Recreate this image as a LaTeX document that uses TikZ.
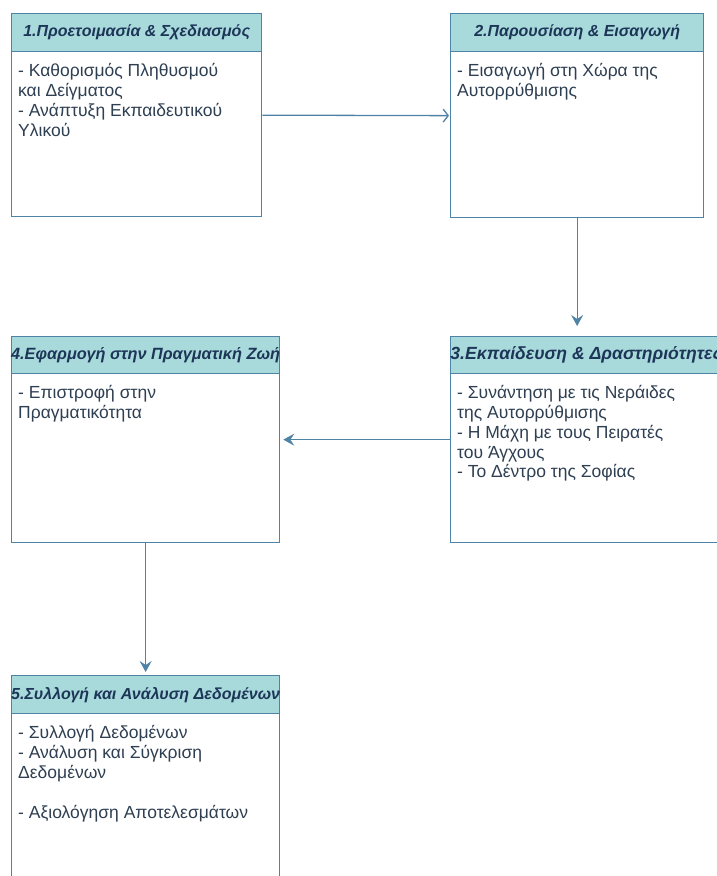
\documentclass[tikz,border=0pt]{standalone}
\usepackage{fontspec}
\setmainfont{Liberation Sans}
\usetikzlibrary{arrows.meta}
\definecolor{edgec}{HTML}{4F83A6}
\definecolor{headc}{HTML}{A8DADC}
\definecolor{inkc}{HTML}{1D3557}
\definecolor{bodyc}{HTML}{2E3F52}
\tikzset{
  card/.style={draw=edgec, line width=1.3pt, fill=white, rectangle, anchor=north west, inner sep=0pt},
  cardhead/.style={draw=edgec, line width=1.3pt, fill=headc, rectangle, anchor=north west, inner sep=0pt},
  title/.style={font=\fontsize{16}{18}\selectfont\bfseries\itshape, text=inkc, inner sep=0pt},
  bodytext/.style={font=\fontsize{17.5}{19.8}\selectfont, text=bodyc, align=left, anchor=north west, inner sep=0pt},
  link/.style={draw=edgec, line width=1.3pt},
  filledtip/.style={-{Stealth[length=11pt,width=12pt,inset=4pt]}},
  opentip/.style={-{Straight Barb[length=5pt,width=13pt]}},
}
\begin{document}
\begin{tikzpicture}[x=1pt,y=-1pt]
\useasboundingbox (0,0) rectangle (717,876);
\clip (0,0) rectangle (717,876);
% box 1
\node[card, minimum width=250pt, minimum height=203pt] (b1) at (11,13) {};
\node[cardhead, minimum width=250pt, minimum height=38pt] (h1) at (b1.north west) {};
\node[title] (t1) at (h1.center) {1.Προετοιμασία \& Σχεδιασμός};
\node[bodytext] (x1) at ([xshift=7pt,yshift=-11pt]h1.south west) {- Καθορισμός Πληθυσμού\\και Δείγματος\\- Ανάπτυξη Εκπαιδευτικού\\Υλικού};
% box 2
\node[card, minimum width=253pt, minimum height=204pt] (b2) at (450,13) {};
\node[cardhead, minimum width=253pt, minimum height=38pt] (h2) at (b2.north west) {};
\node[title] (t2) at (h2.center) {2.Παρουσίαση \& Εισαγωγή};
\node[bodytext] (x2) at ([xshift=7pt,yshift=-11pt]h2.south west) {- Εισαγωγή στη Χώρα της\\Αυτορρύθμισης};
% box 3
\node[card, minimum width=271pt, minimum height=206pt] (b3) at (450,336) {};
\node[cardhead, minimum width=271pt, minimum height=37pt] (h3) at (b3.north west) {};
\node[title, font=\fontsize{17.6}{19}\selectfont\bfseries\itshape] (t3) at (h3.center) {3.Εκπαίδευση \& Δραστηριότητες};
\node[bodytext] (x3) at ([xshift=7pt,yshift=-11pt]h3.south west) {- Συνάντηση με τις Νεράιδες\\της Αυτορρύθμισης\\- Η Μάχη με τους Πειρατές\\του Άγχους\\- Το Δέντρο της Σοφίας};
% box 4
\node[card, minimum width=268pt, minimum height=206pt] (b4) at (11,336) {};
\node[cardhead, minimum width=268pt, minimum height=37pt] (h4) at (b4.north west) {};
\node[title, font=\fontsize{16.3}{18}\selectfont\bfseries\itshape] (t4) at (h4.center) {4.Εφαρμογή στην Πραγματική Ζωή};
\node[bodytext] (x4) at ([xshift=7pt,yshift=-11pt]h4.south west) {- Επιστροφή στην\\Πραγματικότητα};
% box 5
\node[card, minimum width=268pt, minimum height=215pt] (b5) at (11,675) {};
\node[cardhead, minimum width=268pt, minimum height=38pt] (h5) at (b5.north west) {};
\node[title] (t5) at (h5.center) {5.Συλλογή και Ανάλυση Δεδομένων};
\node[bodytext] (x5) at ([xshift=7pt,yshift=-11pt]h5.south west) {- Συλλογή Δεδομένων\\- Ανάλυση και Σύγκριση\\Δεδομένων\\[20pt]- Αξιολόγηση Αποτελεσμάτων};
% connectors
\draw[link, opentip, shorten >=1pt] (b1.east) -- (b2.west);
\draw[link, filledtip, shorten >=10pt] (b2.south) -- (b2.south |- b3.north);
\draw[link, filledtip, shorten >=3pt] (b3.west |- b3.center) -- (b4.east);
\draw[link, filledtip, shorten >=3pt] (b4.south) -- (b4.south |- b5.north);
\end{tikzpicture}
\end{document}
